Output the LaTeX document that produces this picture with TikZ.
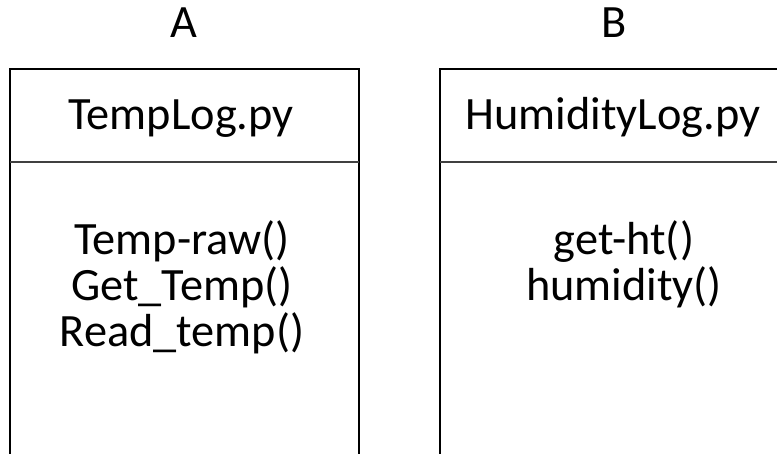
\documentclass[tikz,border=0pt]{standalone}
\usepackage{fontspec}
\setmainfont{Carlito}
\begin{document}
\begin{tikzpicture}[x=1bp,y=-1bp,
  frame/.style={line width=2bp,black},
  divider/.style={line width=1.2bp,black!75},
  label/.style={anchor=base,inner sep=0pt,font=\fontsize{46.5}{50}\selectfont},
  member/.style={anchor=base,inner sep=0pt,font=\fontsize{46.5}{50}\selectfont}]
  \useasboundingbox (0,0) rectangle (777,454);
  \clip (0,0) rectangle (777,454);

  % column A: TempLog.py
  \node[label] (lblA) at (184,38) {A};
  \draw[frame] (10,470) -- (10,69) -- (359,69) -- (359,470);
  \draw[divider] (10,162) -- (359,162);
  \node[label] (clsA) at (181,130) {TempLog.py};
  \node[member] (a1) at (182,255) {Temp-raw()};
  \node[member] (a2) at (182,301) {Get\_Temp()};
  \node[member] (a3) at (182,347) {Read\_temp()};

  % column B: HumidityLog.py
  \node[label] (lblB) at (614,38) {B};
  \draw[frame] (440,470) -- (440,69) -- (800,69);
  \draw[divider] (440,162) -- (800,162);
  \node[label] (clsB) at (613,130) {HumidityLog.py};
  \node[member] (b1) at (624,255) {get-ht()};
  \node[member] (b2) at (624,301) {humidity()};
\end{tikzpicture}
\end{document}
